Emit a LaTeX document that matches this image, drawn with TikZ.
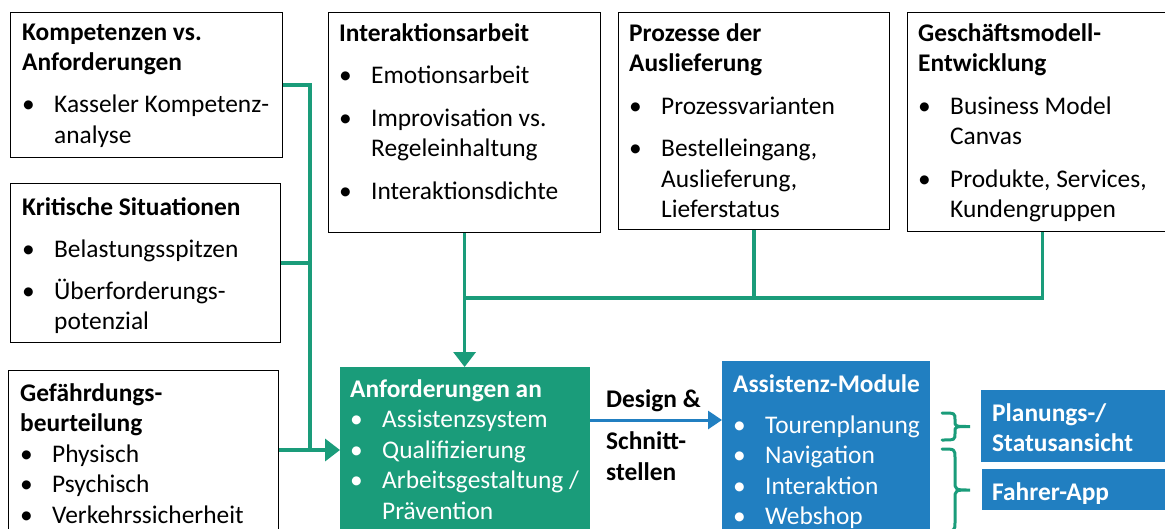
\documentclass[tikz,border=0pt]{standalone}
\usepackage{fontspec}
\setmainfont{Carlito}
\usetikzlibrary{arrows.meta}

\definecolor{ifagruen}{RGB}{26,156,122}
\definecolor{ifablau}{RGB}{33,127,193}

% Aufzaehlungspunkt mit haengendem Einzug
\newcommand{\itm}[1][0pt]{\par\vspace{#1}\hangindent=32pt\hangafter=1\noindent\makebox[32pt][l]{\textbullet}}

\begin{document}
\begin{tikzpicture}[x=1pt,y=-1pt,
    box/.style={draw=black,line width=1.2pt,anchor=north west,inner sep=0pt},
    fbox/.style={fill=#1,anchor=north west,inner sep=0pt},
    txt/.style={anchor=base west,inner sep=0pt,font=\fontsize{25.4}{30.5}\selectfont},
    flow/.style={draw=ifagruen,line width=3.5pt},
    klammer/.style={draw=ifagruen,line width=3pt,line cap=round}]
        \useasboundingbox (0,0) rectangle (1165,528);
        \clip (0,0) rectangle (1165,528);

        %%%%%%% Boxen links %%%%%%%
        \node[box,minimum width=272pt,minimum height=145pt] (komp) at (10,12) {};
        \node[box,minimum width=270pt,minimum height=159pt] (krit) at (10,183) {};
        \node[box,minimum width=270pt,minimum height=200pt] (gef) at (8,370) {};

        \node[txt] (kompT) at (22,40) {\parbox[t]{255pt}{\raggedright
            {\bfseries Kompetenzen vs.\newline Anforderungen}
            \itm[11.5pt]Kasseler Kompetenz-\newline analyse}};
        \node[txt] (kritT) at (22,215) {\parbox[t]{255pt}{\raggedright
            {\bfseries Kritische Situationen}
            \itm[11.5pt]Belastungsspitzen
            \itm[11.5pt]Überforderungs-\newline potenzial}};
        \node[txt] (gefT) at (20,401) {\parbox[t]{255pt}{\raggedright
            {\bfseries Gefährdungs-\newline beurteilung}
            \itm Physisch
            \itm Psychisch
            \itm Verkehrssicherheit}};

        %%%%%%% Boxen oben %%%%%%%
        \node[box,minimum width=272pt,minimum height=220pt] (inter) at (328,12) {};
        \node[box,minimum width=271pt,minimum height=217pt] (proz) at (618,12) {};
        \node[box,minimum width=270pt,minimum height=219pt] (gesch) at (907,12) {};

        \node[txt] (interT) at (339,41) {\parbox[t]{258pt}{\raggedright
            {\bfseries Interaktionsarbeit}
            \itm[12pt]Emotionsarbeit
            \itm[12pt]Improvisation vs.\newline Regeleinhaltung
            \itm[12pt]Interaktionsdichte}};
        \node[txt] (prozT) at (629,41) {\parbox[t]{258pt}{\raggedright
            {\bfseries Prozesse der\newline Auslieferung}
            \itm[12pt]Prozessvarianten
            \itm[12pt]Bestelleingang,\newline Auslieferung,\newline Lieferstatus}};
        \node[txt] (geschT) at (918,41) {\parbox[t]{258pt}{\raggedright
            {\bfseries Geschäftsmodell-\newline Entwicklung}
            \itm[12pt]Business Model\newline Canvas
            \itm[12pt]Produkte, Services,\newline Kundengruppen}};

        %%%%%%% Boxen unten %%%%%%%
        \node[fbox=ifagruen,minimum width=250pt,minimum height=200pt] (anf) at (340,367) {};
        \node[fbox=ifablau,minimum width=208pt,minimum height=200pt] (assist) at (722,361) {};
        \node[fbox=ifablau,minimum width=200pt,minimum height=72pt] (plan) at (981,390) {};
        \node[fbox=ifablau,minimum width=200pt,minimum height=41pt] (app) at (982,469) {};

        \node[txt,text=white] (anfT) at (350,397) {\parbox[t]{240pt}{\raggedright
            {\bfseries Anforderungen an}
            \itm Assistenzsystem
            \itm Qualifizierung
            \itm Arbeitsgestaltung /\newline Prävention}};
        \node[txt,text=white] (assistT) at (733,392) {\parbox[t]{200pt}{\raggedright
            {\bfseries Assistenz-Module}
            \itm[10.5pt]Tourenplanung
            \itm Navigation
            \itm Interaktion
            \itm Webshop}};
        \node[txt,text=white] (planT) at (992,421) {\parbox[t]{170pt}{\raggedright
            \bfseries Planungs-/\newline Statusansicht}};
        \node[txt,text=white] (appT) at (992,500) {\bfseries Fahrer-App};

        \node[txt] (design) at (606,407) {\parbox[t]{110pt}{\raggedright\bfseries
            Design \&\par\vspace{12pt}Schnitt-\newline stellen}};

        %%%%%%% Verbindungen %%%%%%%
        \coordinate (knoten) at (310,450);
        \coordinate (sammel) at (465,298);
        \coordinate (mitte) at (656,420);

        \draw[flow] (komp.east) -| (knoten);
        \draw[flow] (krit.east) -- (krit.east -| knoten);
        \draw[flow,-{Triangle[length=15pt,width=22pt]}] (gef.east |- knoten) -- (anf.west |- knoten);

        \draw[flow,-{Triangle[length=15pt,width=22pt]}] (inter.south) -- (inter.south |- anf.north);
        \draw[flow] (inter.south |- sammel) -| (gesch.south);
        \draw[flow] (proz.south) -- (proz.south |- sammel);

        \draw[draw=ifablau,line width=3pt,-{Triangle[length=14pt,width=18pt]}] (anf.east |- mitte) -- (assist.west |- mitte);

        %%%%%%% Klammern %%%%%%%
        \draw[klammer] (942,413) .. controls (955,413) .. (955,420) -- (955,421)
            .. controls (955,426.5) .. (970,426.5)
            .. controls (955,426.5) .. (955,432) -- (955,433)
            .. controls (955,440) .. (942,440);
        \draw[klammer] (942,449) .. controls (955,449) .. (955,458) -- (955,481)
            .. controls (955,490) .. (970,490)
            .. controls (955,490) .. (955,499) -- (955,522)
            .. controls (955,531) .. (942,531);
\end{tikzpicture}
\end{document}
